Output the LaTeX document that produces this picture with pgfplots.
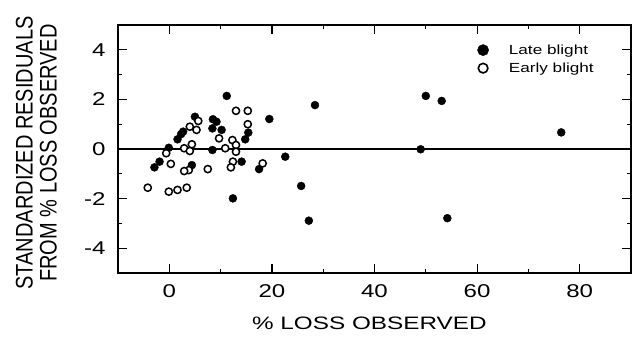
\documentclass[border=0pt]{standalone}
\usepackage{pgfplots}
\pgfplotsset{compat=1.18}
\usepackage{fontspec}
\setmainfont{Liberation Sans}
\newcommand\tl[1]{\scalebox{1.3}[1]{#1}}
\begin{document}
\begin{tikzpicture}
\begin{axis}[
  name=ax,
  scale only axis, width=513pt, height=248pt,
  xmin=-10, xmax=90, ymin=-5, ymax=5,
  xtick={0,20,40,60,80}, xticklabels={\tl{0},\tl{20},\tl{40},\tl{60},\tl{80}},
  ytick={-4,-2,0,2,4}, yticklabels={\tl{-4},\tl{-2},\tl{0},\tl{2},\tl{4}},
  minor x tick num=1, minor y tick num=1,
  tick align=inside, major tick length=9pt, minor tick length=4pt,
  tick style={line width=1.2pt, black},
  axis line style={line width=1.8pt},
  ticklabel style={font=\fontsize{18.5}{21}\selectfont},
  xticklabel style={anchor=center, yshift=-18pt},
  yticklabel style={anchor=east, xshift=-9pt},
  xlabel={\scalebox{1.35}[1]{\% LOSS OBSERVED}},
  xlabel style={font=\fontsize{18}{21}\selectfont, at={(axis description cs:0.49,0)}, anchor=center, yshift=-50.5pt},
  ylabel={\scalebox{1}[1.2]{\begin{tabular}{@{}c@{}}STANDARDIZED RESIDUALS\\[-1pt] FROM \% LOSS OBSERVED\end{tabular}}},
  ylabel style={font=\fontsize{20}{21}\selectfont, at={(axis description cs:-0.153,0.484)}, anchor=center},
  legend style={draw=none, fill=none, at={(axis description cs:0.70,0.93)}, anchor=north west,
     font=\fontsize{13.2}{15}\selectfont, row sep=3pt, inner sep=0pt,
     /tikz/every odd column/.append style={column sep=18pt}},
  legend cell align=left,
]
\addplot[black, line width=1.3pt, forget plot] coordinates {(-10,0) (90,0)};
\addplot[only marks, mark=*, mark size=4pt, mark options={fill=black, draw=black},
  legend image code/.code={\fill[black] (5.5pt,0) circle (5.6pt);}] coordinates {
(11.2,2.14) (5.0,1.30) (8.5,1.20) (9.2,1.10) (8.4,0.83) (10.2,0.77) (2.7,0.70) (2.3,0.60)
(19.5,1.21) (15.4,0.66) (14.8,0.39) (1.6,0.39) (-0.1,0.05) (8.4,-0.04) (-1.9,-0.51)
(-2.9,-0.74) (4.4,-0.65) (14.1,-0.51) (17.5,-0.81) (22.6,-0.31) (25.7,-1.49) (12.4,-1.99)
(27.2,-2.89) (28.4,1.77) (50.0,2.14) (53.1,1.94) (49.0,-0.01) (54.2,-2.79) (76.4,0.67)
};
\addlegendentry{\scalebox{1.3}[1]{Late blight}}
\addplot[only marks, mark=*, mark size=3.6pt, mark options={fill=white, draw=black, line width=1.5pt},
  legend image code/.code={\draw[black, fill=white, line width=1.6pt] (5.5pt,0) circle (4.8pt);}] coordinates {
(13.0,1.54) (15.3,1.54) (5.65,1.13) (4.0,0.90) (5.3,0.77) (15.3,1.0) (9.7,0.43) (12.3,0.36)
(4.4,0.19) (2.9,0.03) (4.0,-0.08) (-0.6,-0.17) (10.9,0.03) (13.0,0.16) (13.0,-0.11)
(12.4,-0.51) (12.0,-0.74) (0.3,-0.60) (3.8,-0.85) (2.9,-0.89) (7.5,-0.81) (18.2,-0.58)
(-4.2,-1.56) (-0.1,-1.72) (1.6,-1.65) (3.4,-1.56)
};
\addlegendentry{\scalebox{1.3}[1]{Early blight}}
\end{axis}
\pgfresetboundingbox
\path[use as bounding box] (ax.south west) ++(-118pt,-63pt) rectangle ([shift={(6pt,25pt)}]ax.north east);
\end{tikzpicture}
\end{document}
